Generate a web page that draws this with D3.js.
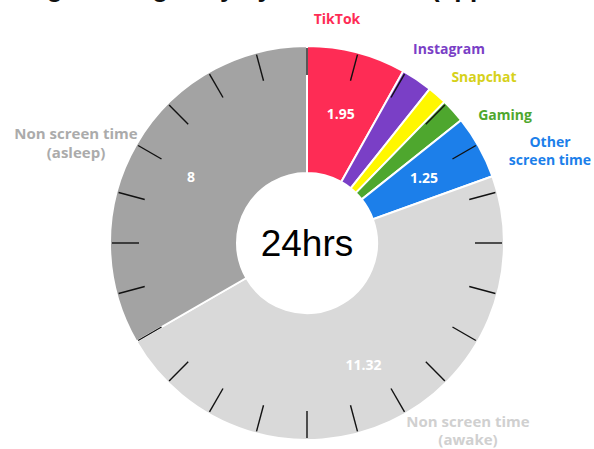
<!DOCTYPE html>
<html>
<head>
<meta charset="utf-8">
<script src="https://cdn.jsdelivr.net/npm/d3@7"></script>
<style>
  html, body { margin: 0; padding: 0; background: #ffffff; }
  svg { display: block; }
</style>
</head>
<body>
<svg id="chart" width="594" height="449"></svg>
<script>
// ---- data ----
const categories = ["TikTok", "Instagram", "Snapchat", "Gaming", "Other screen time", "Non screen time (awake)", "Non screen time (asleep)"];
const hours = [1.95, 0.62, 0.38, 0.48, 1.25, 11.32, 8];
const valueLabels = ["1.95", "", "", "", "1.25", "11.32", "8"];
const labelLines = [["TikTok"], ["Instagram"], ["Snapchat"], ["Gaming"], ["Other", "screen time"], ["Non screen time", "(awake)"], ["Non screen time", "(asleep)"]];
const totalLabel = "24hrs";
const titleText = "Average teenage day by screen time (approximately)";

// ---- styles / layout ----
const sliceColors = ["#FE2C55", "#7A3FC6", "#FFF700", "#4EA72E", "#1C7FEA", "#D9D9D9", "#A3A3A3"];
const textColors  = ["#FE2C55", "#7A3FC6", "#D6D11A", "#4EA72E", "#1C7FEA", "#D0D0D0", "#ABABAB"];
const labelPos = [[337, 19], [449, 49], [484, 77], [505, 115], [550, 142], [468, 422], [76, 134]];
const labelSize = [14, 14, 14, 14, 14, 15, 15];
const lineGap = [18, 18, 18, 18, 18.5, 18, 19];

const svg = d3.select("#chart");
const cx = 307, cy = 243, rOuter = 197, rInner = 70;

svg.append("text")
  .attr("x", 300).attr("y", -3.5)
  .attr("text-anchor", "middle")
  .attr("font-family", "Liberation Sans, Arial, sans-serif")
  .attr("font-size", 26).attr("font-weight", 700)
  .attr("fill", "#111")
  .text(titleText);

const g = svg.append("g").attr("transform", `translate(${cx},${cy})`);

const data = categories.map((c, i) => ({ cat: c, v: hours[i], i }));
const pie = d3.pie().value(d => d.v).sort(null).startAngle(0).endAngle(2 * Math.PI);
const arcs = pie(data);
const arc = d3.arc().innerRadius(rInner).outerRadius(rOuter);
const labelArc = d3.arc().innerRadius(134).outerRadius(134);

g.selectAll("path.slice")
  .data(arcs)
  .join("path")
  .attr("class", "slice")
  .attr("d", arc)
  .attr("fill", d => sliceColors[d.data.i])
  .attr("stroke", "#ffffff")
  .attr("stroke-width", 2);

// hour ticks
const total = d3.sum(hours);
const hourScale = d3.scaleLinear().domain([0, total]).range([0, 2 * Math.PI]);
const tickHours = d3.range(0, 24);
g.selectAll("line.tick")
  .data(tickHours)
  .join("line")
  .attr("class", "tick")
  .attr("x1", h => 168 * Math.sin(hourScale(h)))
  .attr("y1", h => -168 * Math.cos(hourScale(h)))
  .attr("x2", h => 195 * Math.sin(hourScale(h)))
  .attr("y2", h => -195 * Math.cos(hourScale(h)))
  .attr("stroke", "#111")
  .attr("stroke-width", 1.4);

// inner circle
g.append("circle").attr("r", rInner).attr("fill", "#fff");

g.append("text")
  .attr("x", 0).attr("y", 0)
  .attr("text-anchor", "middle")
  .attr("dominant-baseline", "central")
  .attr("font-family", "Liberation Sans, Arial, sans-serif")
  .attr("font-size", 37)
  .attr("fill", "#000")
  .text(totalLabel);

// value labels
g.selectAll("text.val")
  .data(arcs.filter(d => valueLabels[d.data.i] !== ""))
  .join("text")
  .attr("class", "val")
  .attr("transform", d => `translate(${labelArc.centroid(d)})`)
  .attr("text-anchor", "middle")
  .attr("dominant-baseline", "central")
  .attr("font-family", "Open Sans, Liberation Sans, sans-serif")
  .attr("font-size", 14).attr("font-weight", 700)
  .attr("fill", "#fff")
  .text(d => valueLabels[d.data.i]);

// category labels
categories.forEach((c, i) => {
  const t = svg.append("text")
    .attr("x", labelPos[i][0]).attr("y", labelPos[i][1])
    .attr("text-anchor", "middle")
    .attr("font-family", "Open Sans, Liberation Sans, sans-serif")
    .attr("font-size", labelSize[i]).attr("font-weight", 700)
    .attr("fill", textColors[i]);
  labelLines[i].forEach((ln, k) => {
    t.append("tspan")
      .attr("x", labelPos[i][0])
      .attr("dy", k === 0 ? "0.35em" : lineGap[i])
      .text(ln);
  });
});
</script>
</body>
</html>
